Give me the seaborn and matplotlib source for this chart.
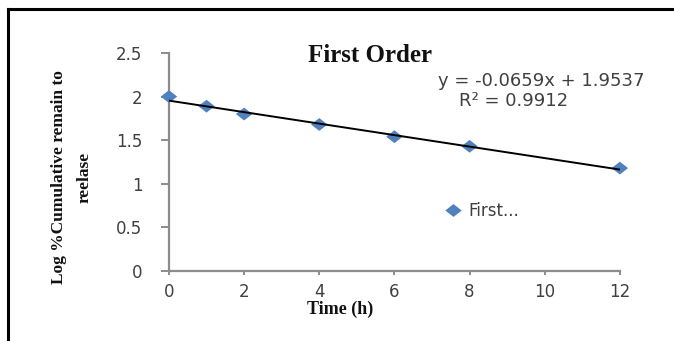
import matplotlib
matplotlib.use("Agg")
import matplotlib.pyplot as plt
import seaborn as sns
import pandas as pd
from matplotlib.lines import Line2D

# ---- data ----
time_h = [0, 1, 2, 4, 6, 8, 12]
log_remain = [2.00, 1.89, 1.80, 1.68, 1.54, 1.43, 1.18]
series_name = "First..."
slope = -0.0659
intercept = 1.9537
r_squared = 0.9912
x_ticks = [0, 2, 4, 6, 8, 10, 12]
y_ticks = [0, 0.5, 1, 1.5, 2, 2.5]
y_tick_labels = ["0", "0.5", "1", "1.5", "2", "2.5"]

df = pd.DataFrame({"Time": time_h, "LogRemain": log_remain, "Series": series_name})
trend_x = [min(time_h), max(time_h)]
trend = pd.DataFrame({"Time": trend_x, "Fit": [intercept + slope * t for t in trend_x]})

sns.set_theme(style="white")
plt.rcParams["font.family"] = ["DejaVu Sans"]

fig = plt.figure(figsize=(6.74, 3.41), dpi=100)
ax = fig.add_axes([0.2507, 0.2053, 0.669, 0.6393])

axis_gray = "#8c8c8c"
text_gray = "#404040"
blue = "#4F81BD"

# trendline
sns.lineplot(data=trend, x="Time", y="Fit", ax=ax, color="black", linewidth=1.4,
             legend=False, zorder=3)
# diamonds (slightly wide, like the stretched source)
diamond = [(-1, 0), (0, 0.78), (1, 0), (0, -0.78), (-1, 0)]
sns.scatterplot(data=df, x="Time", y="LogRemain", hue="Series", palette=[blue],
                marker=diamond, s=140, edgecolor="none", ax=ax, zorder=2)
for coll in ax.collections:
    coll.set_clip_on(False)

ax.set_xlim(0, 12)
ax.set_ylim(0, 2.5)
ax.set_xticks(x_ticks)
ax.set_xticklabels([str(t) for t in x_ticks])
ax.set_yticks(y_ticks)
ax.set_yticklabels(y_tick_labels)

for side in ["top", "right"]:
    ax.spines[side].set_visible(False)
for side in ["left", "bottom"]:
    ax.spines[side].set_color(axis_gray)
    ax.spines[side].set_linewidth(1.6)
    ax.spines[side].set_zorder(1)

ax.tick_params(axis="y", direction="out", length=6, width=1.4, color=axis_gray,
               labelsize=12, labelcolor=text_gray, pad=13, left=True)
ax.tick_params(axis="x", direction="out", length=3, width=1.4, color=axis_gray,
               labelsize=12, labelcolor=text_gray, pad=6, bottom=True)
ax.grid(False)

# axis labels
ax.set_xlabel("Time (h)", family="Liberation Serif", fontweight="bold",
              fontsize=13, color="#111111", va="center")
ax.xaxis.set_label_coords(0.379, -0.175)
ax.set_ylabel("Log %Cumulative remain to\nreelase", family="Liberation Serif",
              fontweight="bold", fontsize=12.5, color="#111111", va="center",
              linespacing=1.75, multialignment="center")
ax.yaxis.set_label_coords(-0.216, 0.43)

# title and trendline equation
ax.text(0.446, 0.99, "First Order", transform=ax.transAxes, ha="center", va="center",
        family="Liberation Serif", fontweight="bold", fontsize=18, color="#111111")
ax.text(1.055, 0.872, f"y = {slope:.4f}x + {intercept:.4f}", transform=ax.transAxes,
        ha="right", va="center", fontsize=13, color=text_gray, clip_on=False)
ax.text(0.765, 0.78, f"R\u00b2 = {r_squared:.4f}", transform=ax.transAxes,
        ha="center", va="center", fontsize=13, color=text_gray, clip_on=False)

# legend
leg = ax.legend(loc="center left", bbox_to_anchor=(0.612, 0.275), frameon=False,
                fontsize=12, handlelength=1.0, handletextpad=0.4, borderpad=0,
                borderaxespad=0, markerscale=1.0)
for t in leg.get_texts():
    t.set_color(text_gray)

# outer frame (left and top edges only are visible in the reference)
fig.add_artist(Line2D([8 / 674, 8 / 674], [0, 1 - 9 / 341], transform=fig.transFigure,
                      color="black", linewidth=2.2, solid_capstyle="projecting"))
fig.add_artist(Line2D([8 / 674, 1], [1 - 9 / 341, 1 - 9 / 341], transform=fig.transFigure,
                      color="black", linewidth=2.2, solid_capstyle="projecting"))

fig.savefig("out.png", dpi=100, facecolor="white")
